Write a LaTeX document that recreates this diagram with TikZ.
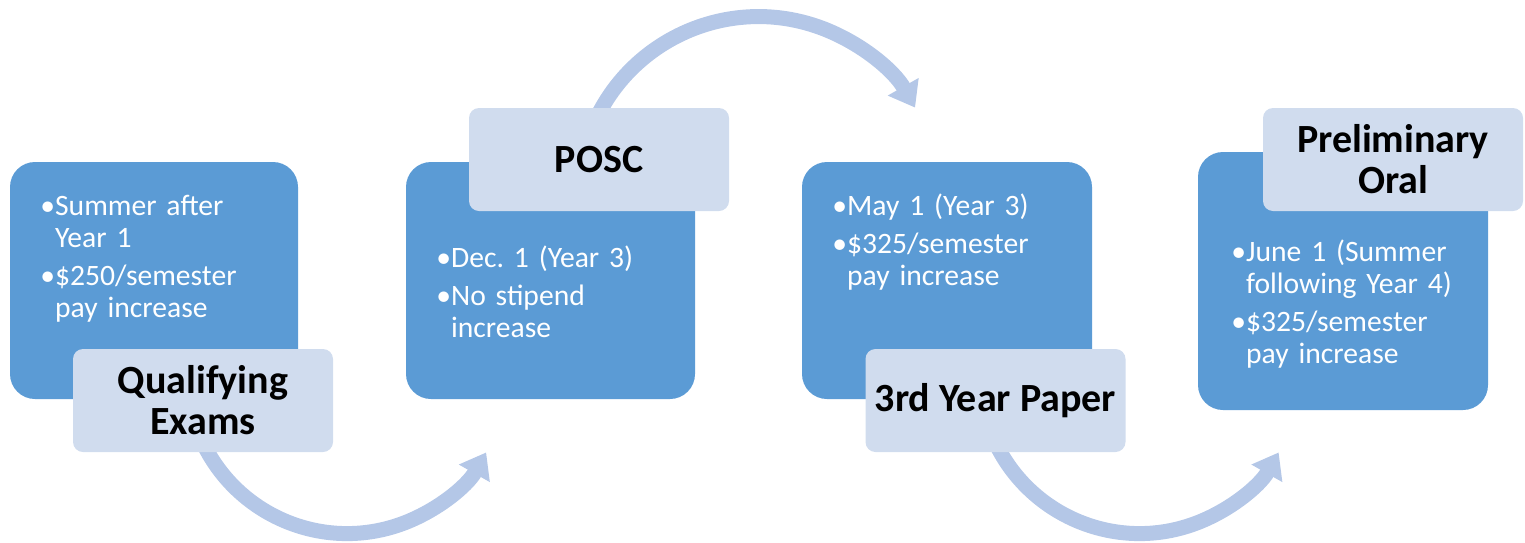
\documentclass[tikz,border=0pt]{standalone}
\usepackage{fontspec}
\setmainfont{Carlito}
\usetikzlibrary{shapes,backgrounds,positioning,calc,arrows.meta}

\definecolor{boxblue}{HTML}{5B9BD5}
\definecolor{tagblue}{HTML}{D0DCEE}
\definecolor{flowblue}{HTML}{B4C7E7}

\newlength\bulw
\newcommand\bitem[1]{\settowidth\bulw{\textbullet}\hangindent\bulw\hangafter1\noindent\textbullet#1\par\vskip3pt}
\newcommand\factfont{\fontsize{14.8}{16}\selectfont\frenchspacing\spaceskip=0.2em plus 0.05em\relax}

\tikzset{
    stage/.style={fill=boxblue, rounded corners=12.5pt, inner sep=0pt},
    tag/.style={fill=tagblue, rounded corners=5pt, minimum width=130pt, minimum height=51.5pt,
        inner sep=0pt, align=center, font=\bfseries\fontsize{20}{20.5}\selectfont},
    facts/.style={text=white, text width=122pt, align=left, inner sep=0pt, font=\factfont},
    flow/.style={flowblue, line width=7.5pt, -{Triangle[width=17pt,length=12pt]}}
}

\begin{document}
\begin{tikzpicture}[x=0.5pt, y=-0.5pt, every node/.style={} ]
    \useasboundingbox (0,0) rectangle (1525,542);

    \foreach \i/\x/\y/\w/\h in {1/154/280.5/144/118.5, 2/550.5/280.5/144.5/118.5,
                                3/947/280.5/145/118.5, 4/1343/281/145/129}
    {
        \node[stage, minimum width=\w pt, minimum height=\h pt] (box_\i) at (\x,\y) {};
    }

    \node[tag] (lab_1) at (203,400.5) {Qualifying\\Exams};
    \node[tag] (lab_2) at (599,159.5) {POSC};
    \node[tag] (lab_3) at (995.5,400.5) {3rd Year Paper};
    \node[tag] (lab_4) at (1393,159.5) {Preliminary\\Oral};

    \node[facts, anchor=base west] (txt_1) at (40,215)
        {\bitem{Summer after\newline Year 1}\bitem{\$250/semester\newline pay increase}};
    \node[facts, anchor=base west] (txt_2) at (436,267)
        {\bitem{Dec. 1 (Year 3)}\bitem{No stipend\newline increase}};
    \node[facts, anchor=base west] (txt_3) at (832,215)
        {\bitem{May 1 (Year 3)}\bitem{\$325/semester\newline pay increase}};
    \node[facts, anchor=base west] (txt_4) at (1231,261)
        {\bitem{June 1 (Summer\newline following Year 4)}\bitem{\$325/semester\newline pay increase}};

    % curved arrows behind the tags
    \begin{pgfonlayer}{background}
        \draw[flow] ([shift={(-6.1,-24)}]lab_1.south) arc[start angle=160, end angle=29.5, radius=159.8];
        \draw[flow] ([shift={(-9.7,27.5)}]lab_2.north) arc[start angle=200, end angle=330.35, radius=180.1];
        \draw[flow] ([shift={(-6.1,-24)}]lab_3.south) arc[start angle=160, end angle=29.5, radius=159.8];
    \end{pgfonlayer}

\end{tikzpicture}
\end{document}
